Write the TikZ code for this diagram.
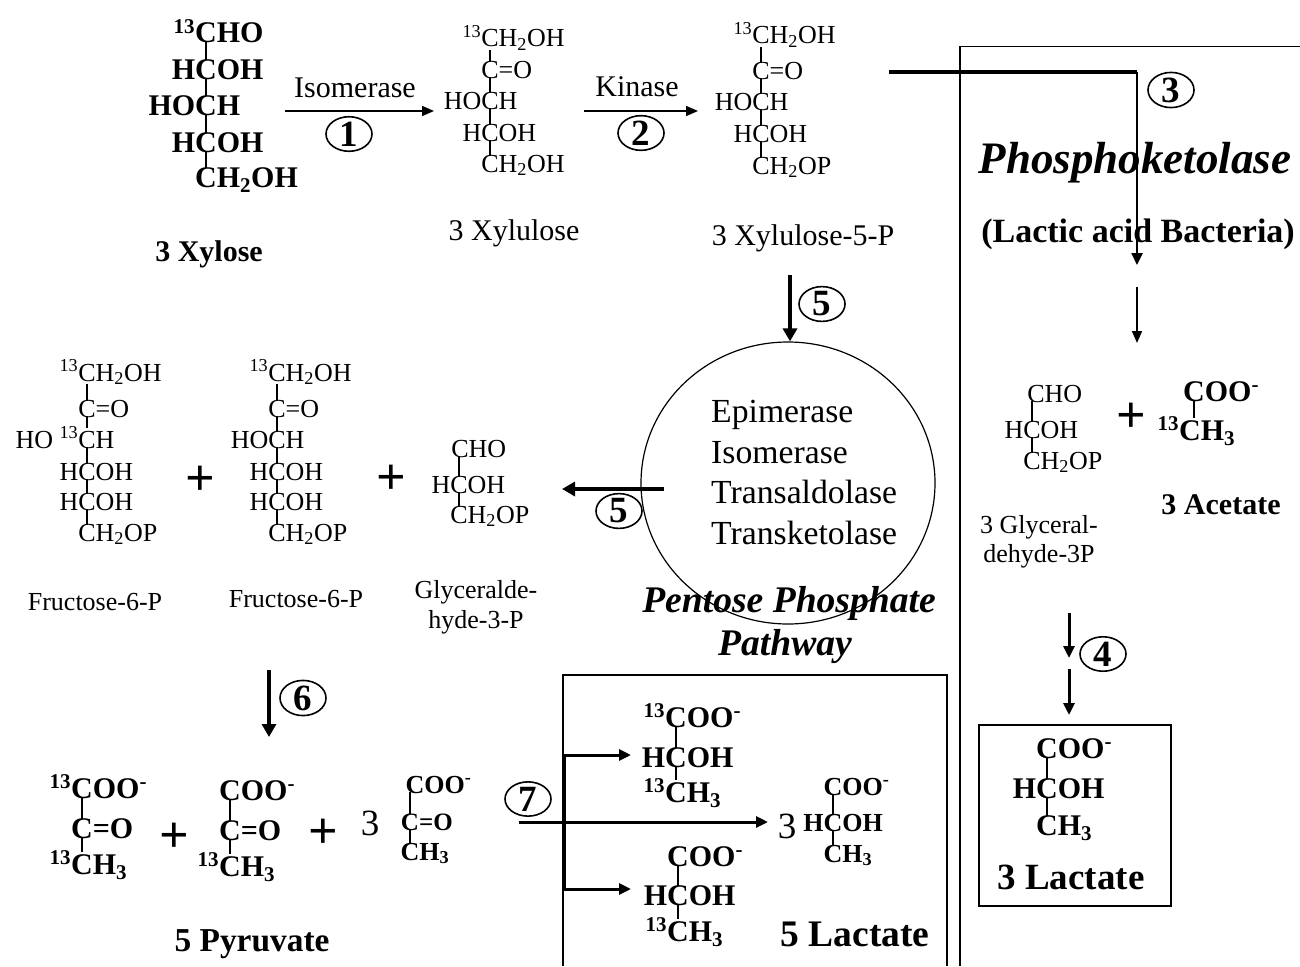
\documentclass[tikz,border=0pt]{standalone}
\usepackage{fontspec}
\setmainfont{Liberation Serif}
\usetikzlibrary{positioning, arrows.meta, shapes.geometric}
\newcommand{\fs}[1]{\fontsize{#1}{#1}\selectfont}
\newcommand{\iso}{\textsuperscript{13}}
\newcommand{\subs}[1]{\textsubscript{#1}}
\newcommand{\ion}{\textsuperscript{-}}
\tikzset{
	form/.style={inner sep=0, anchor=base, font=\fs{#1}},
	bform/.style={inner sep=0, anchor=base, font=\bfseries\fs{#1}},
	capt/.style={inner sep=0, font=\fs{#1}},
	bcapt/.style={inner sep=0, font=\bfseries\fs{#1}},
	icapt/.style={inner sep=0, font=\bfseries\itshape\fs{#1}}
}

\begin{document}
\begin{tikzpicture}[x=1pt, y=-1pt]
\tikzstyle{bond}=[draw, line width=1.3pt, shorten <=-1pt, shorten >=-1pt]
\tikzstyle{num}=[draw, ellipse, line width=1.6pt, inner sep=0, minimum width=46pt, minimum height=33pt, font=\bfseries\fs{37}]
\tikzstyle{plus}=[inner sep=0, font=\bfseries\fs{52}]
\tikzstyle{frame}=[draw, line width=1.3pt]
\tikzstyle{thinarrow}=[draw, -{Triangle[length=12pt, width=10pt]}, line width=1.6pt]
\tikzstyle{midarrow}=[draw, -{Triangle[length=12pt, width=11pt]}, line width=2.4pt]
\tikzstyle{boldarrow}=[draw, -{Triangle[length=13pt, width=14pt]}, line width=3.6pt]

\useasboundingbox (0,0) rectangle (1300,966);

\draw[frame] (1300,46.5) -| (960,966);
\draw[frame] (563,966) |- (947,675) -- (947,966);

% top row
\node[bform=30]		(xyl1) at (206,43)	{\llap{\iso}C\rlap{HO}};
\node[bform=30]		(xyl2) at (206,79)	{\llap{H}C\rlap{OH}};
\node[bform=30]		(xyl3) at (206,115)	{\llap{HO}C\rlap{H}};
\node[bform=30]		(xyl4) at (206,152)	{\llap{H}C\rlap{OH}};
\node[bform=30]		(xyl5) at (206,187)	{C\rlap{H\subs{2}OH}};
\node[bcapt=30]		(xylose) at (209,254)	{3 Xylose};

\node[form=26]		(xlu1) at (490,47)	{\llap{\iso}C\rlap{H\subs{2}OH}};
\node[form=26]		(xlu2) at (490,78)	{C\rlap{=O}};
\node[form=26]		(xlu3) at (490,109)	{\llap{HO}C\rlap{H}};
\node[form=26]		(xlu4) at (490,141)	{\llap{H}C\rlap{OH}};
\node[form=26]		(xlu5) at (490,172)	{C\rlap{H\subs{2}OH}};
\node[capt=30]		(xylulose) at (514,233)	{3 Xylulose};

\node[form=26]		(xlp1) at (761,44)	{\llap{\iso}C\rlap{H\subs{2}OH}};
\node[form=26]		(xlp2) at (761,79)	{C\rlap{=O}};
\node[form=26]		(xlp3) at (761,110)	{\llap{HO}C\rlap{H}};
\node[form=26]		(xlp4) at (761,142)	{\llap{H}C\rlap{OH}};
\node[form=26]		(xlp5) at (761,174)	{C\rlap{H\subs{2}OP}};
\node[capt=30]		(xlpname) at (803,238)	{3 Xylulose-5-P};

\node[capt=30]		(isomerase) at (355,88)	{Isomerase};
\node[capt=30]		(kinase) at (637,87)	{Kinase};
\node[num]			(n1) at (349,134)	{1};
\node[num]			(n2) at (641,133)	{2};
\node[num]			(n3) at (1171,90)	{3};

% right panel
\node[icapt=45]		(phospho) at (1135,163)	{Phosphoketolase};
\node[bcapt=34]		(bacteria) at (1138,234)	{(Lactic acid Bacteria)};

\node[form=26]		(gapb1) at (1036,402)	{C\rlap{HO}};
\node[form=26]		(gapb2) at (1032,438)	{\llap{H}C\rlap{OH}};
\node[form=26]		(gapb3) at (1032,469)	{C\rlap{H\subs{2}OP}};
\node[align=center, capt=26]	(gapbname) at (1039,541.5)	{3 Glyceral-\\[3pt]dehyde-3P};
\node[plus]			(plusd) at (1131,418)	{+};
\node[bform=30]		(ace1) at (1194,401)	{C\rlap{OO\ion}};
\node[bform=30]		(ace2) at (1190,440)	{\llap{\iso}C\rlap{H\subs{3}}};
\node[bcapt=30]		(acetate) at (1221,505)	{3 Acetate};

\node[num]			(n4) at (1103,654)	{4};
\node[draw, line width=1.3pt, rectangle, minimum width=192pt, minimum height=181pt]	(lacbox) at (1075,815.5)	{};
\node[bform=30]		(lacd1) at (1047,758)	{C\rlap{OO\ion}};
\node[bform=30]		(lacd2) at (1047,798)	{\llap{H}C\rlap{OH}};
\node[bform=30]		(lacd3) at (1047,835)	{C\rlap{H\subs{3}}};
\node[bcapt=37]		(lac3name) at (1071,877)	{3 Lactate};

% pentose phosphate cycle
\node[draw, ellipse, line width=1.2pt, inner sep=0, minimum width=294pt, minimum height=282pt]	(cycle) at (788,483)	{};
\node[align=left, anchor=west, inner sep=0, font=\fontsize{33.7}{40.6}\selectfont]	(enzymes) at (711,472.5)	{Epimerase\\Isomerase\\Transaldolase\\Transketolase};
\node[icapt=37.6]	(pentose) at (789,603)	{Pentose Phosphate};
\node[icapt=37.6]	(pathway) at (785,647)	{Pathway};
\node[num]			(n5a) at (822,304)	{5};
\node[num]			(n5b) at (619,511)	{5};

% fructose row
\node[form=26]		(frua1) at (87,381)	{\llap{\iso}C\rlap{H\subs{2}OH}};
\node[form=26]		(frua2) at (87,417)	{C\rlap{=O}};
\node[form=26]		(frua3) at (87,448)	{\llap{HO \iso}C\rlap{H}};
\node[form=26]		(frua4) at (87,480)	{\llap{H}C\rlap{OH}};
\node[form=26]		(frua5) at (87,510)	{\llap{H}C\rlap{OH}};
\node[form=26]		(frua6) at (87,541)	{C\rlap{H\subs{2}OP}};
\node[capt=26]		(fruaname) at (95,602)	{Fructose-6-P};

\node[form=26]		(frub1) at (277,381)	{\llap{\iso}C\rlap{H\subs{2}OH}};
\node[form=26]		(frub2) at (277,417)	{C\rlap{=O}};
\node[form=26]		(frub3) at (277,448)	{\llap{HO}C\rlap{H}};
\node[form=26]		(frub4) at (277,480)	{\llap{H}C\rlap{OH}};
\node[form=26]		(frub5) at (277,510)	{\llap{H}C\rlap{OH}};
\node[form=26]		(frub6) at (277,541)	{C\rlap{H\subs{2}OP}};
\node[capt=26]		(frubname) at (296,599)	{Fructose-6-P};

\node[plus]			(plusa) at (200,481)	{+};
\node[plus]			(plusb) at (391,480)	{+};

\node[form=26]		(gapa1) at (460,457)	{C\rlap{HO}};
\node[form=26]		(gapa2) at (459,493)	{\llap{H}C\rlap{OH}};
\node[form=26]		(gapa3) at (459,523)	{C\rlap{H\subs{2}OP}};
\node[align=center, capt=26]	(gapaname) at (476,607.5)	{Glyceralde-\\[4pt]hyde-3-P};

% pyruvate row
\node[num]			(n6) at (303,698)	{6};
\node[bform=30]		(pyra1) at (82,798)	{\llap{\iso}C\rlap{OO\ion}};
\node[bform=30]		(pyra2) at (82,838)	{C\rlap{=O}};
\node[bform=30]		(pyra3) at (82,874)	{\llap{\iso}C\rlap{H\subs{3}}};
\node[plus]			(plusc) at (174,838)	{+};
\node[bform=30]		(pyrb1) at (230,800)	{C\rlap{OO\ion}};
\node[bform=30]		(pyrb2) at (230,840)	{C\rlap{=O}};
\node[bform=30]		(pyrb3) at (230,876)	{\llap{\iso}C\rlap{H\subs{3}}};
\node[plus]			(pluse) at (323,834)	{+};
\node[capt=37]		(threea) at (370,823)	{3};
\node[bform=26]		(pyrc1) at (415,793)	{C\rlap{OO\ion}};
\node[bform=25]		(pyrc2) at (410,830)	{C\rlap{=O}};
\node[bform=26]		(pyrc3) at (410,860)	{C\rlap{H\subs{3}}};
\node[bcapt=33.4]	(pyruvate) at (252,944)	{5 Pyruvate};

% lactate panel
\node[num]			(n7) at (528,799)	{7};
\node[bform=30]		(laca1) at (676,727)	{\llap{\iso}C\rlap{OO\ion}};
\node[bform=30]		(laca2) at (676,767)	{\llap{H}C\rlap{OH}};
\node[bform=30]		(laca3) at (676,802)	{\llap{\iso}C\rlap{H\subs{3}}};
\node[bform=30]		(lacb1) at (678,866)	{C\rlap{OO\ion}};
\node[bform=30]		(lacb2) at (678,905)	{\llap{H}C\rlap{OH}};
\node[bform=30]		(lacb3) at (678,941)	{\llap{\iso}C\rlap{H\subs{3}}};
\node[capt=37]		(threeb) at (787,826)	{3};
\node[bform=26]		(lacc1) at (833,795)	{C\rlap{OO\ion}};
\node[bform=26]		(lacc2) at (833,831)	{\llap{H}C\rlap{OH}};
\node[bform=26]		(lacc3) at (833,862)	{C\rlap{H\subs{3}}};
\node[bcapt=37.5]	(lac5name) at (855,934)	{5 Lactate};

% arrow ends
\coordinate (isoa) at (285,111);
\coordinate (isob) at (434,111);
\coordinate (kina) at (584,111);
\coordinate (kinb) at (698,111);
\coordinate (pka) at (889,72);
\coordinate (pkb) at (1137,72);
\coordinate (pkc) at (1137,265);
\coordinate (pkd) at (1137,287);
\coordinate (pke) at (1137,343);
\coordinate (ppa) at (790,275);
\coordinate (ppb) at (664,489);
\coordinate (ppc) at (562,489);
\coordinate (fra) at (269,670);
\coordinate (frb) at (269,737);
\coordinate (piv) at (519,822);
\coordinate (pit) at (564,755);
\coordinate (pib) at (564,889);
\coordinate (lta) at (631,755);
\coordinate (ltb) at (631,889);
\coordinate (ltc) at (768,822);
\coordinate (gla) at (1069,613);
\coordinate (glb) at (1069,658);
\coordinate (glc) at (1069,669);
\coordinate (gld) at (1069,715);

\path[bond] (xyl1) -- (xyl2);
\path[bond] (xyl2) -- (xyl3);
\path[bond] (xyl3) -- (xyl4);
\path[bond] (xyl4) -- (xyl5);
\path[bond] (xlu1) -- (xlu2);
\path[bond] (xlu2) -- (xlu3);
\path[bond] (xlu3) -- (xlu4);
\path[bond] (xlu4) -- (xlu5);
\path[bond] (xlp1) -- (xlp2);
\path[bond] (xlp2) -- (xlp3);
\path[bond] (xlp3) -- (xlp4);
\path[bond] (xlp4) -- (xlp5);
\path[bond] (frua1) -- (frua2);
\path[bond] (frua2) -- (frua3);
\path[bond] (frua3) -- (frua4);
\path[bond] (frua4) -- (frua5);
\path[bond] (frua5) -- (frua6);
\path[bond] (frub1) -- (frub2);
\path[bond] (frub2) -- (frub3);
\path[bond] (frub3) -- (frub4);
\path[bond] (frub4) -- (frub5);
\path[bond] (frub5) -- (frub6);
\path[bond] (gapa2 |- gapa1.south) -- (gapa2);
\path[bond] (gapa2) -- (gapa3);
\path[bond] (gapb2 |- gapb1.south) -- (gapb2);
\path[bond] (gapb2) -- (gapb3);
\path[bond] (ace1) -- (ace1 |- ace2.north);
\path[bond] (lacd1) -- (lacd2);
\path[bond] (lacd2) -- (lacd3);
\path[bond] (pyra1) -- (pyra2);
\path[bond] (pyra2) -- (pyra3);
\path[bond] (pyrb1) -- (pyrb2);
\path[bond] (pyrb2) -- (pyrb3);
\path[bond] (pyrc2 |- pyrc1.south) -- (pyrc2);
\path[bond] (pyrc2) -- (pyrc3);
\path[bond] (laca1) -- (laca2);
\path[bond] (laca2) -- (laca3);
\path[bond] (lacb1) -- (lacb2);
\path[bond] (lacb2) -- (lacb3);
\path[bond] (lacc1) -- (lacc2);
\path[bond] (lacc2) -- (lacc3);

\path[thinarrow] (isoa) -- (isob);
\path[thinarrow] (kina) -- (kinb);
\path[draw, line width=3.4pt] (pka) -- (pkb);
\path[midarrow] (pkb) -- (pkc);
\path[thinarrow] (pkd) -- (pke);
\path[boldarrow] (ppa) -- (cycle.north -| ppa);
\path[boldarrow] (ppb) -- (ppc);
\path[boldarrow] (fra) -- (frb);
\path[midarrow, line width=3pt] (piv) -- (ltc);
\path[draw, line width=3.6pt] (pit) -- (pib);
\path[midarrow, line width=3pt] (pit) -- (lta);
\path[midarrow, line width=3pt] (pib) -- (ltb);
\path[midarrow, line width=3pt] (gla) -- (glb);
\path[midarrow, line width=3pt] (glc) -- (gld);

\end{tikzpicture}
\end{document}
